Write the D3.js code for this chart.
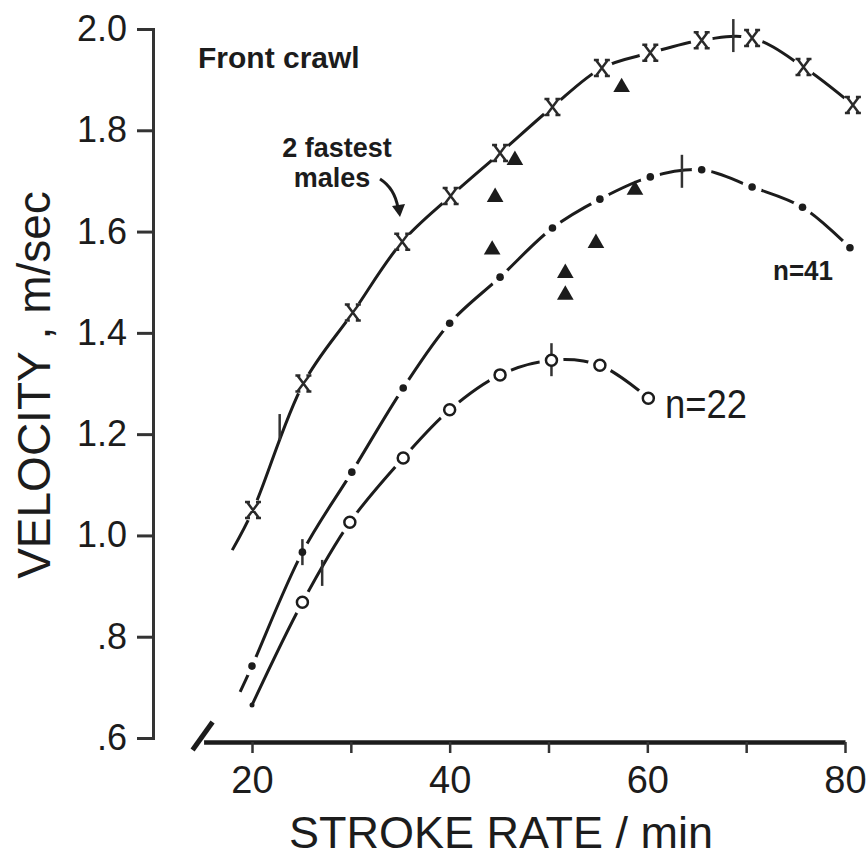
<!DOCTYPE html>
<html>
<head>
    <meta charset="utf-8">
    <title>stroke rate vs velocity</title>
    <script type="text/javascript" src="https://cdn.jsdelivr.net/npm/d3@7/dist/d3.min.js"></script>
    <style>
      body { margin: 0; background: #fff; }
      text { font-family: "Liberation Sans", Arial, sans-serif; fill: #1c1c1c; }
    </style>
</head>
<body>
<script type="text/javascript">

        var width = 866
        var height = 859

        // 2 fastest males (x markers)
        var fastRate = [20.1, 25.2, 30.2, 35.2, 40.1, 45.1, 50.4, 55.4, 60.3, 65.5, 70.6, 75.8, 80.8]
        var fastVel  = [1.05, 1.30, 1.44, 1.58, 1.67, 1.755, 1.846, 1.923, 1.953, 1.978, 1.982, 1.925, 1.85]
        // n=41 (dots)
        var midRate = [20, 25.1, 30.1, 35.3, 40, 45.1, 50.4, 55.2, 60.3, 65.5, 70.6, 75.7, 80.5]
        var midVel  = [0.742, 0.967, 1.125, 1.291, 1.419, 1.51, 1.607, 1.664, 1.708, 1.722, 1.688, 1.648, 1.568]
        // n=22 (open circles)
        var lowRate = [25.1, 29.9, 35.3, 40, 45.1, 50.3, 55.2, 60.1]
        var lowVel  = [0.868, 1.026, 1.153, 1.248, 1.317, 1.346, 1.336, 1.271]
        // where each fitted curve starts (no marker)
        var startRate = [18.0, 18.8, 20.0]
        var startVel  = [0.971, 0.691, 0.665]
        // single swimmers (triangles)
        var triRate = [57.4, 46.6, 44.6, 44.3, 54.8, 51.7, 51.7, 58.75]
        var triVel  = [1.885, 1.741, 1.668, 1.564, 1.577, 1.518, 1.475, 1.682]
        // vertical marks: peak and low end of each curve
        var peakRate = [68.7, 63.5, 50.3]
        var peakVel  = [1.988, 1.72, 1.348]
        var lowEndRate = [22.8, 25.1, 27.1]
        var lowEndVel  = [1.214, 0.967, 0.926]

        var yTicks = [0.6, 0.8, 1.0, 1.2, 1.4, 1.6, 1.8, 2.0]
        var yTickLabels = [".6", ".8", "1.0", "1.2", "1.4", "1.6", "1.8", "2.0"]
        var xTicks = [20, 30, 40, 50, 60, 70, 80]
        var xTickLabels = ["20", "", "40", "", "60", "", "80"]

        var ink = "#1c1c1c"

        var svg = d3.select("body").append("svg").attr("width", width).attr("height", height)

        var x = d3.scaleLinear().domain([20, 80]).range([252, 845])
        var y = d3.scaleLinear().domain([0.6, 2.0]).range([738, 29])

        function zip(a, b) { return a.map(function(d, i) { return [d, b[i]] }) }

        // y axis
        var yAxis = svg.append("g")
            .attr("transform", "translate(153,0)")
            .call(d3.axisLeft(y).tickValues(yTicks).tickSize(16).tickPadding(10)
                .tickFormat(function(d, i) { return yTickLabels[i] }))
        yAxis.select(".domain").attr("stroke", "#333").attr("stroke-width", 3)
        yAxis.selectAll(".tick line").attr("stroke", "#333").attr("stroke-width", 3)
        yAxis.selectAll(".tick text").attr("font-size", 36).attr("fill", ink)
            .attr("font-family", "Liberation Sans, Arial, sans-serif")

        // x axis (broken at the left end)
        var xa = d3.scaleLinear().domain([15.1, 80]).range([x(15.1), x(80)])
        var xAxis = svg.append("g")
            .attr("transform", "translate(0,742)")
            .call(d3.axisBottom(xa).tickValues(xTicks).tickSizeInner(11).tickSizeOuter(0).tickPadding(13)
                .tickFormat(function(d, i) { return xTickLabels[i] }))
        xAxis.select(".domain").attr("stroke", ink).attr("stroke-width", 4.5)
        xAxis.selectAll(".tick line").attr("stroke", "#333").attr("stroke-width", 2.5)
        xAxis.selectAll(".tick text").attr("font-size", 38).attr("fill", ink)
            .attr("font-family", "Liberation Sans, Arial, sans-serif")
        svg.append("path")
            .attr("d", "M" + (xa(15.1) - 11) + ",750 L" + (xa(15.1) + 9) + ",722")
            .attr("stroke", ink).attr("stroke-width", 5).attr("fill", "none")

        // curves
        var line = d3.line()
            .x(function(d) { return x(d[0]) })
            .y(function(d) { return y(d[1]) })
            .curve(d3.curveCatmullRom.alpha(0.5))

        var series = [
            {pts: zip(fastRate, fastVel), halo: 11},
            {pts: zip(midRate, midVel), halo: 10},
            {pts: zip(lowRate, lowVel), halo: 12}
        ]
        series.forEach(function(s, i) {
            var pts = [[startRate[i], startVel[i]]].concat(s.pts)
            svg.append("path")
                .attr("d", line(pts))
                .attr("fill", "none")
                .attr("stroke", ink)
                .attr("stroke-width", 3)
        })

        // gaps round the markers
        series.forEach(function(s) {
            svg.append("g").selectAll("circle")
                .data(s.pts)
                .enter()
                .append("circle")
                .attr("cx", function(d) { return x(d[0]) })
                .attr("cy", function(d) { return y(d[1]) })
                .attr("r", s.halo)
                .attr("fill", "#fff")
        })

        // small end dot of the n=22 curve
        svg.append("circle")
            .attr("cx", x(startRate[2])).attr("cy", y(startVel[2]))
            .attr("r", 2.5).attr("fill", ink)

        // peak and low-end marks
        svg.append("g").selectAll("line")
            .data(zip(peakRate, peakVel))
            .enter()
            .append("line")
            .attr("x1", function(d) { return x(d[0]) })
            .attr("x2", function(d) { return x(d[0]) })
            .attr("y1", function(d) { return y(d[1]) - 16 })
            .attr("y2", function(d) { return y(d[1]) + 17 })
            .attr("stroke", "#333").attr("stroke-width", 2.5)
        svg.append("g").selectAll("line")
            .data(zip(lowEndRate, lowEndVel))
            .enter()
            .append("line")
            .attr("x1", function(d) { return x(d[0]) })
            .attr("x2", function(d) { return x(d[0]) })
            .attr("y1", function(d) { return y(d[1]) - 13 })
            .attr("y2", function(d) { return y(d[1]) + 13 })
            .attr("stroke", "#333").attr("stroke-width", 2.5)

        // x markers
        svg.append("g").selectAll("path")
            .data(series[0].pts)
            .enter()
            .append("path")
            .attr("transform", function(d) { return "translate(" + x(d[0]) + "," + y(d[1]) + ")" })
            .attr("d", "M-6,-8L6,8M6,-8L-6,8M-8,-8H-3M3,-8H8M-8,8H-3M3,8H8")
            .attr("stroke", "#2a2a2a").attr("stroke-width", 2.5).attr("fill", "none")

        // dots
        svg.append("g").selectAll("circle")
            .data(series[1].pts)
            .enter()
            .append("circle")
            .attr("cx", function(d) { return x(d[0]) })
            .attr("cy", function(d) { return y(d[1]) })
            .attr("r", 3.8)
            .attr("fill", ink)

        // open circles
        svg.append("g").selectAll("circle")
            .data(series[2].pts)
            .enter()
            .append("circle")
            .attr("cx", function(d) { return x(d[0]) })
            .attr("cy", function(d) { return y(d[1]) })
            .attr("r", 5.5)
            .attr("fill", "#fff")
            .attr("stroke", ink)
            .attr("stroke-width", 2.5)

        // triangles
        svg.append("g").selectAll("path")
            .data(zip(triRate, triVel))
            .enter()
            .append("path")
            .attr("transform", function(d) { return "translate(" + x(d[0]) + "," + y(d[1]) + ")" })
            .attr("d", d3.symbol().type(d3.symbolTriangle).size(120))
            .attr("fill", ink)

        // labels
        svg.append("text").attr("x", 198).attr("y", 68)
            .attr("font-size", 30).attr("font-weight", "bold").text("Front crawl")
        svg.append("text").attr("x", 337).attr("y", 157).attr("text-anchor", "middle")
            .attr("font-size", 27).attr("font-weight", "bold").text("2 fastest")
        svg.append("text").attr("x", 332).attr("y", 187).attr("text-anchor", "middle")
            .attr("font-size", 27).attr("font-weight", "bold").text("males")
        svg.append("path")
            .attr("d", "M380,179 C391,186 396,196 398,208")
            .attr("stroke", ink).attr("stroke-width", 3).attr("fill", "none")
        svg.append("path")
            .attr("d", "M392,206 L405,204 L400,217 Z")
            .attr("fill", ink)
        svg.append("text").attr("x", 773).attr("y", 280)
            .attr("font-size", 28).attr("font-weight", "bold")
            .attr("textLength", 60).attr("lengthAdjust", "spacingAndGlyphs").text("n=41")
        svg.append("text").attr("x", 665).attr("y", 418)
            .attr("font-size", 40)
            .attr("textLength", 82).attr("lengthAdjust", "spacingAndGlyphs").text("n=22")

        // axis titles
        svg.append("text").attr("x", 501).attr("y", 848).attr("text-anchor", "middle")
            .attr("font-size", 45).text("STROKE RATE / min")
        svg.append("text")
            .attr("transform", "translate(50,385) rotate(-90)")
            .attr("text-anchor", "middle")
            .attr("font-size", 46).text("VELOCITY , m/sec")

</script>
</body>
</html>
